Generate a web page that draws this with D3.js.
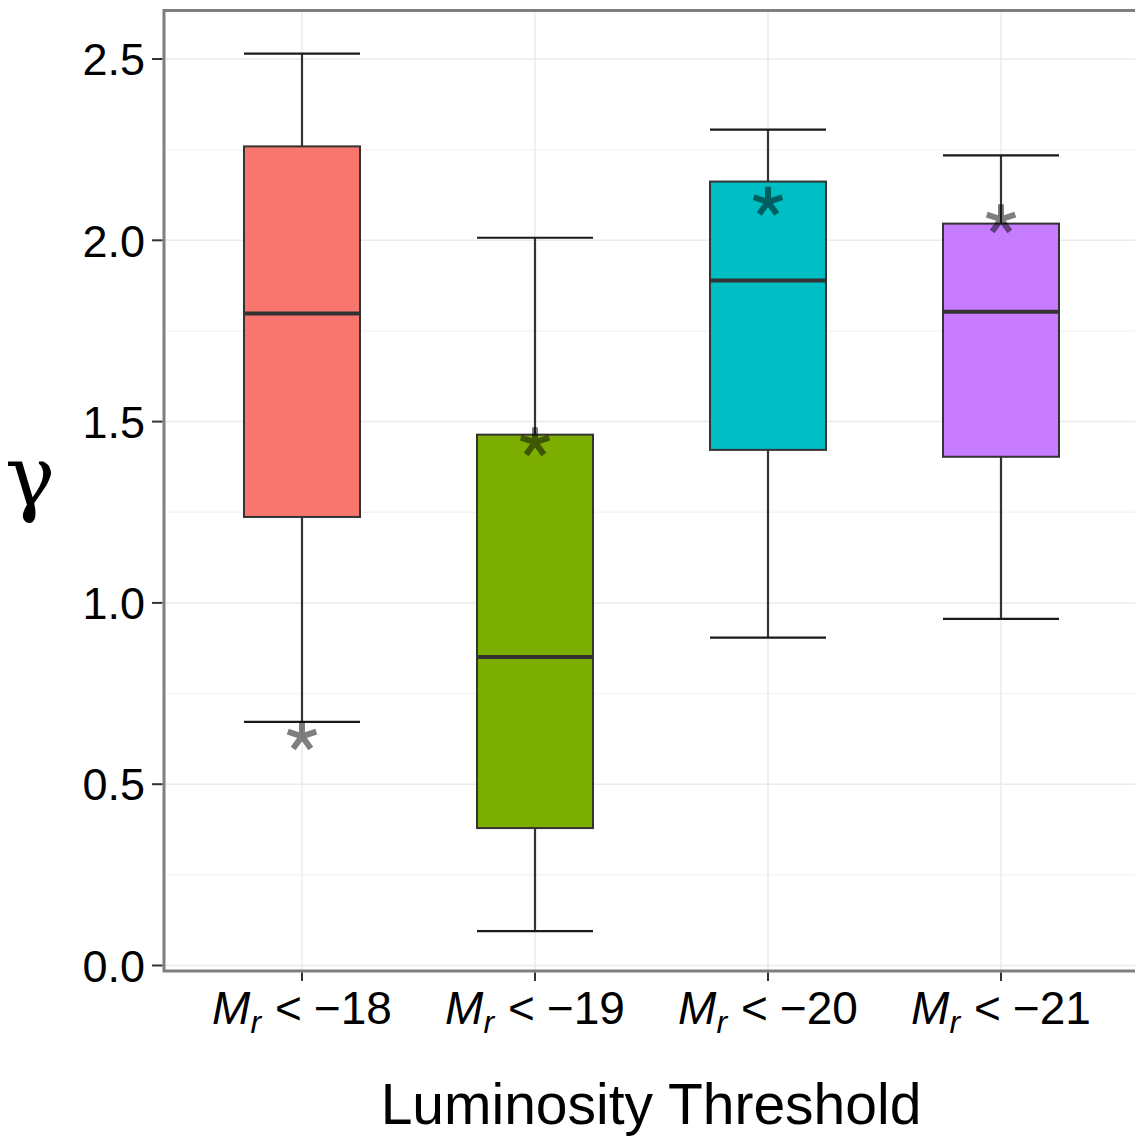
<!DOCTYPE html>
<html><head><meta charset="utf-8">
<script src="https://cdn.jsdelivr.net/npm/d3@7"></script>
<style>body{margin:0;background:#fff}svg{display:block}</style>
</head><body>
<svg id="c" width="1135" height="1136"></svg>
<script>
const categories = ["−18", "−19", "−20", "−21"];
const whiskerLow  = [0.672, 0.095, 0.904, 0.956];
const q1          = [1.237, 0.379, 1.422, 1.403];
const medians     = [1.798, 0.851, 1.889, 1.803];
const q3          = [2.259, 1.464, 2.162, 2.046];
const whiskerHigh = [2.515, 2.007, 2.305, 2.234];
const starValues  = [0.632, 1.443, 2.106, 2.058];
const fills = ["#F8766D", "#7CAE00", "#00BFC4", "#C77CFF"];
const yTicks = [0, 0.5, 1.0, 1.5, 2.0, 2.5];
const yMinor = [0.25, 0.75, 1.25, 1.75, 2.25];

const svg = d3.select("#c");
const x = d3.scalePoint().domain(categories).range([302, 1001]);
const y = d3.scaleLinear().domain([0, 2.5]).range([965.5, 59]);
const panel = {left: 164, top: 10.5, right: 1146, bottom: 971};
const boxW = 116;

const data = categories.map((c, i) => ({c, lo: whiskerLow[i], q1: q1[i], med: medians[i], q3: q3[i], hi: whiskerHigh[i], star: starValues[i], fill: fills[i]}));

// grid
const g = svg.append("g");
g.selectAll(".minor").data(yMinor).join("line")
  .attr("x1", panel.left).attr("x2", panel.right)
  .attr("y1", d => y(d)).attr("y2", d => y(d))
  .attr("stroke", "#f4f4f4").attr("stroke-width", 1.5);
g.selectAll(".major").data(yTicks).join("line")
  .attr("x1", panel.left).attr("x2", panel.right)
  .attr("y1", d => y(d)).attr("y2", d => y(d))
  .attr("stroke", "#ebebeb").attr("stroke-width", 1.5);
g.selectAll(".vx").data(categories).join("line")
  .attr("x1", d => x(d)).attr("x2", d => x(d))
  .attr("y1", panel.top).attr("y2", panel.bottom)
  .attr("stroke", "#ebebeb").attr("stroke-width", 1.5);

// whiskers
const b = svg.append("g");
b.selectAll(".wl").data(data).join("line")
  .attr("x1", d => x(d.c)).attr("x2", d => x(d.c))
  .attr("y1", d => y(d.lo)).attr("y2", d => y(d.q1))
  .attr("stroke", "#333").attr("stroke-width", 2.2);
b.selectAll(".wh").data(data).join("line")
  .attr("x1", d => x(d.c)).attr("x2", d => x(d.c))
  .attr("y1", d => y(d.hi)).attr("y2", d => y(d.q3))
  .attr("stroke", "#333").attr("stroke-width", 2.2);
b.selectAll(".capl").data(data).join("line")
  .attr("x1", d => x(d.c) - boxW/2).attr("x2", d => x(d.c) + boxW/2)
  .attr("y1", d => y(d.lo)).attr("y2", d => y(d.lo))
  .attr("stroke", "#1a1a1a").attr("stroke-width", 2.2);
b.selectAll(".caph").data(data).join("line")
  .attr("x1", d => x(d.c) - boxW/2).attr("x2", d => x(d.c) + boxW/2)
  .attr("y1", d => y(d.hi)).attr("y2", d => y(d.hi))
  .attr("stroke", "#1a1a1a").attr("stroke-width", 2.2);
// boxes
b.selectAll(".box").data(data).join("rect")
  .attr("x", d => x(d.c) - boxW/2).attr("width", boxW)
  .attr("y", d => y(d.q3)).attr("height", d => y(d.q1) - y(d.q3))
  .attr("fill", d => d.fill).attr("stroke", "#333").attr("stroke-width", 2);
b.selectAll(".med").data(data).join("line")
  .attr("x1", d => x(d.c) - boxW/2).attr("x2", d => x(d.c) + boxW/2)
  .attr("y1", d => y(d.med)).attr("y2", d => y(d.med))
  .attr("stroke", "#333").attr("stroke-width", 4);

// stars (5-armed asterisks)
const armLen = 15;
const angles = [90, 18, 162, -54, -126].map(a => a * Math.PI / 180);
b.selectAll(".star").data(data).join("path")
  .attr("d", d => {
    const cx = x(d.c), cy = y(d.star);
    return angles.map(a => `M${cx},${cy}L${cx + armLen*Math.cos(a)},${cy - armLen*Math.sin(a)}`).join("");
  })
  .attr("stroke", "#000").attr("stroke-opacity", 0.5).attr("stroke-width", 6)
  .attr("stroke-linecap", "butt").attr("fill", "none");

// panel border
svg.append("rect").attr("x", panel.left).attr("y", panel.top)
  .attr("width", panel.right - panel.left).attr("height", panel.bottom - panel.top)
  .attr("fill", "none").attr("stroke", "#7f7f7f").attr("stroke-width", 3);

// y axis ticks & labels
const ya = svg.append("g");
ya.selectAll("line").data(yTicks).join("line")
  .attr("x1", 152).attr("x2", panel.left - 1.5)
  .attr("y1", d => y(d)).attr("y2", d => y(d))
  .attr("stroke", "#333").attr("stroke-width", 2);
ya.selectAll("text").data(yTicks).join("text")
  .attr("x", 145).attr("y", d => y(d)).attr("dy", "0.36em")
  .attr("text-anchor", "end")
  .attr("font-family", "Liberation Sans, Arial, sans-serif").attr("font-size", 45)
  .attr("fill", "#000").text(d => d3.format(".1f")(d));

// x axis ticks & labels
const xa = svg.append("g");
xa.selectAll("line").data(categories).join("line")
  .attr("x1", d => x(d)).attr("x2", d => x(d))
  .attr("y1", panel.bottom + 1.5).attr("y2", 981)
  .attr("stroke", "#333").attr("stroke-width", 2);
const lab = xa.selectAll("text").data(categories).join("text")
  .attr("x", d => x(d)).attr("y", 1024).attr("text-anchor", "middle")
  .attr("font-family", "Liberation Sans, Arial, sans-serif").attr("font-size", 46).attr("fill", "#000");
lab.append("tspan").attr("font-style", "italic").text("M");
lab.append("tspan").attr("font-style", "italic").attr("font-size", 32).attr("dy", 9).text("r");
lab.append("tspan").attr("dy", -9).attr("dx", 14).text("<");
lab.append("tspan").attr("dx", 12).text(d => d);

// axis titles
svg.append("text").attr("x", 651).attr("y", 1124).attr("text-anchor", "middle")
  .attr("font-family", "Liberation Sans, Arial, sans-serif").attr("font-size", 57)
  .attr("fill", "#000").text("Luminosity Threshold");
svg.append("text").attr("x", 30).attr("y", 505).attr("text-anchor", "middle")
  .attr("font-family", "DejaVu Serif, serif").attr("font-size", 84)
  .attr("fill", "#000").text("γ");
</script>
</body></html>
